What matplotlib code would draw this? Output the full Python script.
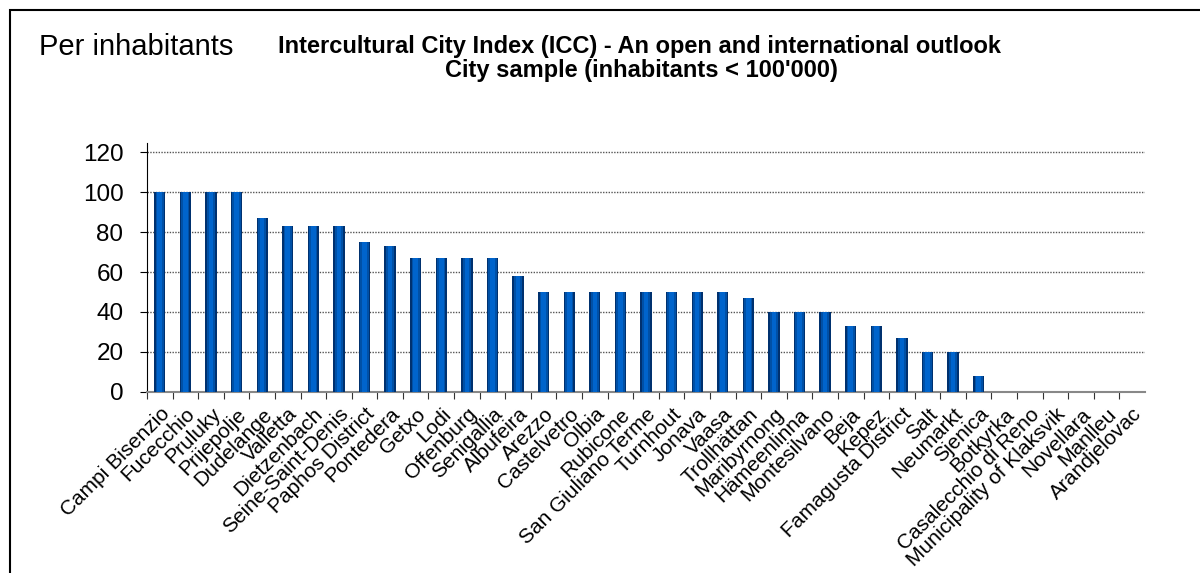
import numpy as np
import matplotlib.pyplot as plt
from matplotlib.patches import Rectangle

plt.rcParams['font.family'] = ['Liberation Sans', 'DejaVu Sans']

# data
cities = ['Campi Bisenzio', 'Fucecchio', 'Pruluky', 'Prijepolje', 'Dudelange', 'Valletta',
          'Dietzenbach', 'Seine-Saint-Denis', 'Paphos District', 'Pontedera', 'Getxo', 'Lodi',
          'Offenburg', 'Senigallia', 'Albufeira', 'Arezzo', 'Castelvetro', 'Olbia', 'Rubicone',
          'San Giuliano Terme', 'Turnhout', 'Jonava', 'Vaasa', 'Trollhättan', 'Maribyrnong',
          'Hämeenlinna', 'Montesilvano', 'Beja', 'Kepez', 'Famagusta District', 'Salt',
          'Neumarkt', 'Sjenica', 'Botkyrka', 'Casalecchio di Reno', 'Municipality of Klaksvik',
          'Novellara', 'Manlleu', 'Arandjelovac']
scores = [100, 100, 100, 100, 87, 83, 83, 83, 75, 73, 67, 67, 67, 67, 58, 50, 50, 50, 50,
          50, 50, 50, 50, 47, 40, 40, 40, 33, 33, 27, 20, 20, 8, 0, 0, 0, 0, 0, 0]
yticks = [0, 20, 40, 60, 80, 100, 120]

fig = plt.figure(figsize=(12, 5.73), dpi=100)
ax = fig.add_axes([147/1200, 1-392/573, 998/1200, 249/573])

x = np.arange(len(cities))
# layered bars to fake the cylinder shading
ax.bar(x, scores, width=0.44, color='#00316f', zorder=3)
ax.bar(x, scores, width=0.32, color='#0050a6', zorder=3)
ax.bar(x, scores, width=0.18, color='#0064cc', zorder=3)

ax.set_xlim(-0.5, len(cities) - 0.5)
ax.set_ylim(0, 124.5)
ax.set_yticks(yticks)
ax.tick_params(axis='y', labelsize=17.5, length=5, direction='out', pad=12)
ax.yaxis.grid(True, color='#555555', linestyle=(0, (1, 1)), linewidth=1)

# category ticks sit between bars
ax.set_xticks(x - 0.5, minor=False)
ax.set_xticklabels([])
ax.set_xticks(x, minor=True)
ax.set_xticklabels(cities, minor=True, rotation=45, ha='right', rotation_mode='anchor', fontsize=15)
ax.tick_params(axis='x', which='minor', length=0, pad=9)
ax.tick_params(axis='x', which='major', length=5, color='#333333')

for s in ['top', 'right']:
    ax.spines[s].set_visible(False)
ax.spines['bottom'].set_color('#888888')
ax.spines['bottom'].set_linewidth(1.5)
ax.spines['left'].set_color('black')

fig.text(39/1200, 1-47/573, 'Per inhabitants', fontsize=21, va='center', ha='left')
fig.text(640/1200, 1-46/573, 'Intercultural City Index (ICC) - An open and international outlook',
         fontsize=17, fontweight='bold', ha='center', va='center')
fig.text(641/1200, 1-71/573, "City sample (inhabitants < 100'000)",
         fontsize=17, fontweight='bold', ha='center', va='center')

fig.patches.append(Rectangle((10/1200, -0.05), 1.1, 1-10/573+0.05, transform=fig.transFigure,
                             fill=False, edgecolor='black', linewidth=1.5))

fig.savefig('out.png', dpi=100)
